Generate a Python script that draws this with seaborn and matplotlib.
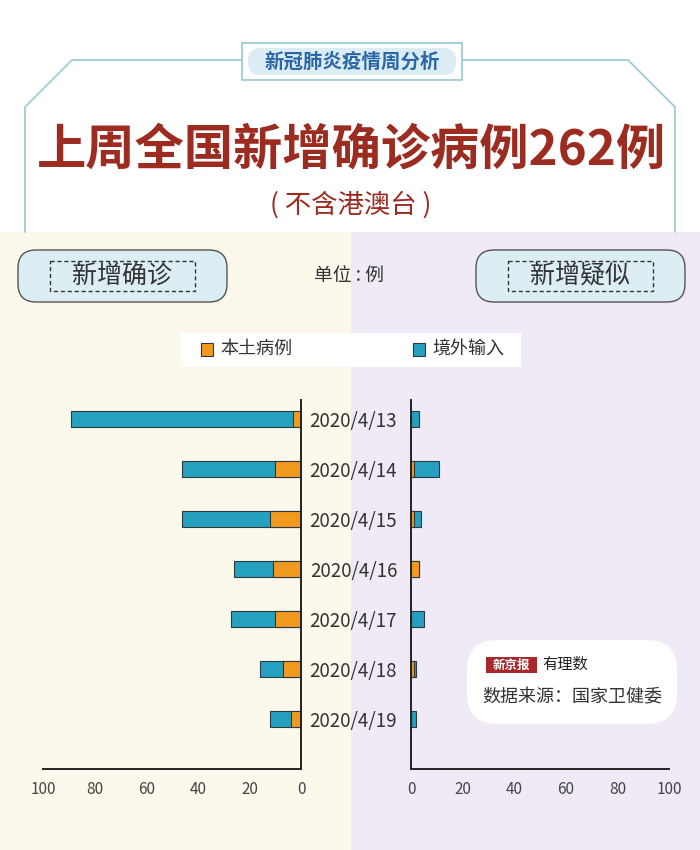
import numpy as np
import pandas as pd
import seaborn as sns
import matplotlib.pyplot as plt
from matplotlib.patches import Rectangle, FancyBboxPatch

# data
dates = ['2020/4/13', '2020/4/14', '2020/4/15', '2020/4/16', '2020/4/17', '2020/4/18', '2020/4/19']
confirmed_local = [3, 10, 12, 11, 10, 7, 4]
confirmed_imported = [86, 36, 34, 15, 17, 9, 8]
suspected_local = [0, 1, 1, 3, 0, 1, 0]
suspected_imported = [3, 10, 3, 0, 5, 1, 2]
x_ticks = [0, 20, 40, 60, 80, 100]

df = pd.DataFrame({
    'date': dates,
    'c_local': confirmed_local,
    'c_total': np.add(confirmed_local, confirmed_imported),
    's_local': suspected_local,
    's_total': np.add(suspected_local, suspected_imported),
})

sns.set_style('white')
plt.rcParams['font.family'] = ['Noto Sans CJK SC', 'DejaVu Sans']

ORANGE = '#f29a1f'
BLUE = '#25a0be'
EDGE = '#2b3a40'
RED = '#9c2b20'
FRAME = '#9fcbd3'

fig = plt.figure(figsize=(7, 8.5), dpi=100)

# background layer in pixel coordinates
bg = fig.add_axes([0, 0, 1, 1], zorder=0)
bg.set_xlim(0, 700)
bg.set_ylim(850, 0)
bg.axis('off')
bg.add_patch(Rectangle((0, 232), 351, 618, facecolor='#fcf8ec', edgecolor='none'))
bg.add_patch(Rectangle((351, 232), 349, 618, facecolor='#efeaf5', edgecolor='none'))

# title frame
bg.plot([242, 72, 25, 25], [60, 60, 107, 232], color=FRAME, lw=1.3)
bg.plot([462, 628, 675, 675], [60, 60, 107, 232], color=FRAME, lw=1.3)
bg.add_patch(Rectangle((242, 43), 220, 37, facecolor='white', edgecolor=FRAME, lw=1.3))
bg.add_patch(FancyBboxPatch((248, 48), 208, 27, boxstyle='round,pad=0,rounding_size=13',
                            facecolor='#dcecf4', edgecolor='none'))
bg.text(352, 62, '新冠肺炎疫情周分析', ha='center', va='center', fontsize=14,
        fontweight='bold', color='#2a67a6')
bg.text(351, 150, '上周全国新增确诊病例262例', ha='center', va='center', fontsize=35.5,
        fontweight='bold', color=RED)
bg.text(351, 205, '( 不含港澳台 )', ha='center', va='center', fontsize=19, color=RED)

# section boxes
for x0, label in [(18, '新增确诊'), (476, '新增疑似')]:
    bg.add_patch(FancyBboxPatch((x0, 250), 209, 52, boxstyle='round,pad=0,rounding_size=18',
                                facecolor='#dcedf4', edgecolor='#555555', lw=1))
    bg.add_patch(Rectangle((x0 + 32, 261), 145, 30, facecolor='none', edgecolor='#333333',
                           lw=1, linestyle=(0, (3, 2))))
    bg.text(x0 + 104, 276, label, ha='center', va='center', fontsize=18, color='#333333')
bg.text(349, 276, '单位 : 例', ha='center', va='center', fontsize=13.5, color='#333333')

# legend
bg.add_patch(Rectangle((181, 333), 340, 34, facecolor='white', edgecolor='none'))
bg.add_patch(Rectangle((201, 343), 12, 13, facecolor=ORANGE, edgecolor=EDGE, lw=0.8))
bg.text(220, 349, '本土病例', ha='left', va='center', fontsize=13, color='#333333')
bg.add_patch(Rectangle((413, 343), 12, 13, facecolor=BLUE, edgecolor=EDGE, lw=0.8))
bg.text(432, 349, '境外输入', ha='left', va='center', fontsize=13, color='#333333')

# chart axes
ax_l = fig.add_axes([43 / 700, 81 / 850, 258 / 700, 369 / 850], zorder=2)
ax_r = fig.add_axes([411 / 700, 81 / 850, 258 / 700, 369 / 850], zorder=2)

for ax, tot, loc in [(ax_l, 'c_total', 'c_local'), (ax_r, 's_total', 's_local')]:
    ax.patch.set_alpha(0)
    sns.barplot(data=df, x=tot, y='date', orient='h', color=BLUE, width=0.31,
                edgecolor=EDGE, linewidth=0.8, saturation=1, ax=ax)
    sns.barplot(data=df, x=loc, y='date', orient='h', color=ORANGE, width=0.31,
                edgecolor=EDGE, linewidth=0.8, saturation=1, ax=ax)
    ax.set_ylim(7, -0.38)
    ax.set_xticks(x_ticks)
    ax.set_xlabel('')
    ax.set_ylabel('')
    sns.despine(ax=ax, top=True, left=False, right=False)
    for s in ax.spines.values():
        s.set_color('#222222')
        s.set_linewidth(1.4)
    ax.tick_params(axis='x', direction='in', length=6, width=1.3, color='#222222',
                   labelsize=11, labelcolor='#444444', pad=9)
    ax.tick_params(axis='y', length=0)

ax_l.set_xlim(100, 0)
ax_l.spines['left'].set_visible(False)
ax_l.set_yticklabels([])
ax_r.set_xlim(0, 100)
ax_r.spines['right'].set_visible(False)
ax_r.tick_params(axis='y', labelsize=13.5, labelcolor='#333333', pad=10)

# source box
fg = fig.add_axes([0, 0, 1, 1], zorder=5)
fg.set_xlim(0, 700)
fg.set_ylim(850, 0)
fg.axis('off')
fg.add_patch(FancyBboxPatch((467, 640), 210, 84, boxstyle='round,pad=0,rounding_size=30',
                            facecolor='white', edgecolor='none'))
fg.add_patch(Rectangle((486, 657), 51, 16, facecolor='#a8282b', edgecolor='none'))
fg.text(511.5, 665, '新京报', ha='center', va='center', fontsize=9, fontweight='bold',
        color='white')
fg.text(542, 664, '有理数', ha='left', va='center', fontsize=11, color='#222222')
fg.text(482, 697, '数据来源：国家卫健委', ha='left', va='center', fontsize=13,
        color='#333333')

plt.savefig('out.png', dpi=100)
